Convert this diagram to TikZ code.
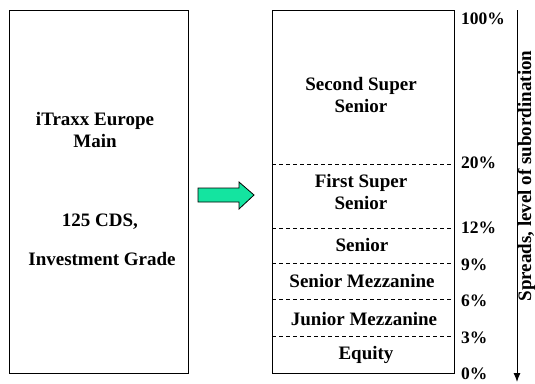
\documentclass[tikz,border=0pt]{standalone}
\usepackage{fontspec}
\setmainfont{Liberation Serif}
\usetikzlibrary{arrows.meta}
\definecolor{mint}{RGB}{20,228,160}
\tikzset{
  box/.style={draw=black, line width=0.9pt, inner sep=0pt},
  txt/.style={font=\bfseries\fontsize{19}{22}\selectfont, align=center, inner sep=0pt},
  pct/.style={font=\bfseries\fontsize{17.5}{20}\selectfont, anchor=west, inner sep=0pt},
  axislabel/.style={font=\bfseries\fontsize{19}{22}\selectfont, inner sep=0pt},
  cut/.style={dashed, dash pattern=on 4pt off 3pt, line width=0.8pt},
}
\begin{document}
\begin{tikzpicture}[x=1pt,y=-1pt]
\useasboundingbox (0,0) rectangle (535,383);
% left pool box
\node[box, minimum width=179pt, minimum height=363pt] (pool) at (98.5,191.5) {};
\node[txt] (name) at (95,130) {iTraxx Europe\\Main};
\node[txt] (cds) at (100,222) {125 CDS,};
\node[txt] (grade) at (102,259) {Investment Grade};
% green arrow
\draw[fill=mint, line width=0.8pt] (198,188) -- (239,188) -- (239,182) -- (254,195) -- (239,209) -- (239,202) -- (198,202) -- cycle;
% right tranche box
\node[box, minimum width=182pt, minimum height=363pt] (tr) at (363,191.5) {};
\coordinate (l20) at (272,164); \coordinate (r20) at (454,164);
\coordinate (l12) at (272,228); \coordinate (r12) at (454,228);
\coordinate (l9) at (272,263);  \coordinate (r9) at (454,263);
\coordinate (l6) at (272,299);  \coordinate (r6) at (454,299);
\coordinate (l3) at (272,336);  \coordinate (r3) at (454,336);
\draw[cut] (l20) -- (r20);
\draw[cut] (l12) -- (r12);
\draw[cut] (l9) -- (r9);
\draw[cut] (l6) -- (r6);
\draw[cut] (l3) -- (r3);
% tranche names
\node[txt] (sss) at (361,95) {Second Super\\Senior};
\node[txt] (fss) at (361,192) {First Super\\Senior};
\node[txt] (sen) at (362,245) {Senior};
\node[txt] (smz) at (362,281) {Senior Mezzanine};
\node[txt] (jmz) at (364,319) {Junior Mezzanine};
\node[txt] (eq) at (366,355) {Equity};
% percentages
\node[pct] (p100) at (461,19) {100\%};
\node[pct] (p20) at (461,163) {20\%};
\node[pct] (p12) at (461,228) {12\%};
\node[pct] (p9) at (461,265) {9\%};
\node[pct] (p6) at (461,301) {6\%};
\node[pct] (p3) at (461,338) {3\%};
\node[pct] (p0) at (461,374) {0\%};
% subordination axis
\coordinate (atop) at (517,10);
\coordinate (abot) at (517,382);
\draw[line width=1pt, -{Latex[length=9pt,width=7pt]}] (atop) -- (abot);
\node[axislabel, rotate=90, anchor=north] (axis) at (517.6,176) {Spreads, level of subordination};
\end{tikzpicture}
\end{document}
